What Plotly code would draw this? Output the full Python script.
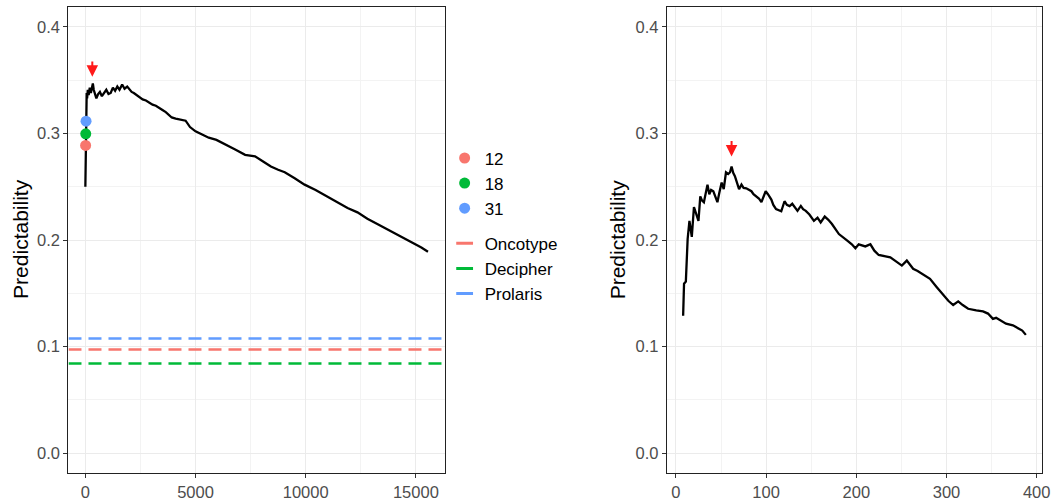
import plotly.graph_objects as go

# ---------------- data ----------------
left_x = [0, 10, 20, 30, 45, 60, 80, 110, 150, 200, 250, 300, 340, 380, 430, 500, 580, 660, 750, 850,
          950, 1050, 1150, 1250, 1350, 1450, 1550, 1670, 1780, 1900, 2000, 2100, 2200, 2320, 2430, 2600,
          2750, 2880, 3050, 3200, 3330, 3500, 3650, 3780, 3920, 4100, 4370, 4550, 4750, 5000, 5300, 5600,
          5950, 6350, 6800, 7250, 7700, 8050, 8420, 8750, 9050, 9500, 9950, 10450, 10950, 11450, 11900,
          12350, 12800, 13250, 13700, 14150, 14550, 14950, 15250, 15550]
left_y = [0.250, 0.275, 0.300, 0.318, 0.330, 0.338, 0.333, 0.341, 0.336, 0.343, 0.338, 0.344, 0.347, 0.341,
          0.337, 0.333, 0.337, 0.339, 0.335, 0.338, 0.341, 0.337, 0.338, 0.343, 0.340, 0.344, 0.341, 0.346,
          0.342, 0.344, 0.341, 0.339, 0.338, 0.336, 0.334, 0.332, 0.331, 0.329, 0.327, 0.326, 0.324, 0.322,
          0.320, 0.318, 0.315, 0.314, 0.313, 0.312, 0.306, 0.302, 0.299, 0.296, 0.294, 0.290, 0.285, 0.280,
          0.2785, 0.274, 0.269, 0.266, 0.2636, 0.258, 0.252, 0.247, 0.241, 0.2346, 0.230, 0.226, 0.220,
          0.215, 0.210, 0.2056, 0.201, 0.196, 0.193, 0.189]

right_x = [8, 9, 11, 13, 15, 17.6, 20, 22, 25, 27, 29, 31, 33, 35, 37, 39, 41.5, 44, 46, 48, 50.7, 53,
           55.5, 58, 60, 61.7, 63.5, 65.4, 68, 70, 72.7, 75, 78, 81, 83.7, 86, 89, 92, 94.8, 97, 99.5,
           102, 105.8, 108, 111, 116.8, 120.4, 123, 126, 129, 131.5, 134.8, 138.5, 141, 144, 148, 153,
           157, 160.5, 165, 169, 173, 180.7, 185, 190, 195, 199, 202.7, 206, 210, 215.6, 220, 224.8,
           231, 237.7, 244, 250.5, 256, 263, 268, 274, 281.7, 289, 296.4, 302, 307.4, 313, 318, 324, 333,
           340.5, 346, 351.5, 355, 361, 366, 373.6, 379, 384, 388]
right_y = [0.129, 0.159, 0.161, 0.201, 0.218, 0.203, 0.231, 0.225, 0.218, 0.241, 0.237, 0.2355, 0.244,
           0.252, 0.243, 0.247, 0.2458, 0.240, 0.2355, 0.244, 0.254, 0.2477, 0.2636, 0.262, 0.2636, 0.269,
           0.263, 0.260, 0.254, 0.2477, 0.252, 0.249, 0.2486, 0.247, 0.2458, 0.243, 0.241, 0.239, 0.2355,
           0.241, 0.2458, 0.243, 0.238, 0.233, 0.229, 0.227, 0.2364, 0.233, 0.2318, 0.234, 0.231, 0.2274,
           0.232, 0.229, 0.2274, 0.224, 0.218, 0.221, 0.2165, 0.222, 0.219, 0.215, 0.2056, 0.203, 0.1994,
           0.196, 0.1922, 0.196, 0.195, 0.194, 0.196, 0.190, 0.186, 0.185, 0.1838, 0.180, 0.176, 0.1807,
           0.173, 0.171, 0.168, 0.1636, 0.156, 0.148, 0.143, 0.139, 0.1424, 0.139, 0.1355, 0.134, 0.133,
           0.131, 0.126, 0.127, 0.124, 0.1215, 0.120, 0.1175, 0.115, 0.111]

point_names = ["12", "18", "31"]
point_x = [12, 18, 31]
point_y = [0.2888, 0.2997, 0.3115]
point_colors = ["#F8766D", "#00BA38", "#619CFF"]

ref_names = ["Oncotype", "Decipher", "Prolaris"]
ref_values = [0.0972, 0.0841, 0.1075]
ref_colors = ["#F8766D", "#00BA38", "#619CFF"]

left_arrow = dict(x=315, y_tail=0.369, y_head=0.3533)
right_arrow = dict(x=61.7, y_tail=0.2944, y_head=0.2785)

left_xrange = [-766, 16306]
right_xrange = [-9.95, 406.0]
yrange = [-0.0187, 0.4187]

left_xticks = [0, 5000, 10000, 15000]
right_xticks = [0, 100, 200, 300, 400]
yticks = [0, 0.1, 0.2, 0.3, 0.4]

# ---------------- layout helpers ----------------
W, H = 1064, 501


def px(xabs):
    return xabs / W


def py(yabs):
    return 1 - yabs / H


FONT = "Liberation Sans, Arial, Helvetica, sans-serif"

fig = go.Figure()

fig.add_trace(go.Scatter(x=left_x, y=left_y, mode="lines", line=dict(color="black", width=2.3),
                         showlegend=False, xaxis="x", yaxis="y"))

for n, v, c in zip(ref_names, ref_values, ref_colors):
    fig.add_trace(go.Scatter(x=left_xrange, y=[v, v], mode="lines", showlegend=False,
                             line=dict(color=c, width=2.5, dash="13px,7px"),
                             xaxis="x", yaxis="y"))

for n, xv, yv, c in zip(point_names, point_x, point_y, point_colors):
    fig.add_trace(go.Scatter(x=[xv], y=[yv], mode="markers", name=n,
                             marker=dict(color=c, size=11), legendgroup="pts",
                             xaxis="x", yaxis="y"))

# legend keys for the reference lines (short segments like the ggplot keys)
for n, c in zip(ref_names, ref_colors):
    fig.add_trace(go.Scatter(x=[None], y=[None], mode="markers", name=n, legendgroup="refs",
                             marker=dict(symbol="line-ew-open", size=12, color=c,
                                         line=dict(color=c, width=3)),
                             xaxis="x", yaxis="y"))

fig.add_trace(go.Scatter(x=right_x, y=right_y, mode="lines", line=dict(color="black", width=2.3),
                         showlegend=False, xaxis="x2", yaxis="y2"))

tickfont = dict(family=FONT, size=16.5, color="#4D4D4D")
axis_common = dict(showline=True, linecolor="#222222", linewidth=1.3, mirror=True,
                   ticks="outside", ticklen=4, tickcolor="#333333", tickwidth=1,
                   showgrid=True, gridcolor="#EBEBEB", gridwidth=1,
                   zeroline=False, tickfont=tickfont)


def minor(vals):
    return dict(tickvals=vals, showgrid=True, gridcolor="#F3F3F3", gridwidth=0.7, ticks="")


ylab = ["%.1f" % v for v in yticks]

fig.update_layout(
    width=W, height=H, autosize=False,
    margin=dict(l=0, r=0, t=0, b=0),
    paper_bgcolor="white", plot_bgcolor="white",
    font=dict(family=FONT, color="black"),
    xaxis=dict(domain=[px(69), px(448)], range=left_xrange, tickvals=left_xticks,
               ticktext=[str(v) for v in left_xticks], minor=minor([2500, 7500, 12500]), **axis_common),
    yaxis=dict(domain=[py(475), py(7)], range=yrange, tickvals=yticks, ticktext=ylab,
               minor=minor([0.05, 0.15, 0.25, 0.35]), **axis_common),
    xaxis2=dict(domain=[px(672), px(1050)], range=right_xrange, anchor="y2", tickvals=right_xticks,
                ticktext=[str(v) for v in right_xticks], minor=minor([50, 150, 250, 350]), **axis_common),
    yaxis2=dict(domain=[py(475), py(7)], range=yrange, anchor="x2", tickvals=yticks, ticktext=ylab,
                minor=minor([0.05, 0.15, 0.25, 0.35]), **axis_common),
    legend=dict(x=px(448), y=py(141), xanchor="left", yanchor="top", tracegroupgap=10,
                font=dict(family=FONT, size=17, color="black"),
                bgcolor="rgba(0,0,0,0)", itemwidth=30),
)

for xr, yr, a in [("x", "y", left_arrow), ("x2", "y2", right_arrow)]:
    fig.add_annotation(x=a["x"], y=a["y_head"], ax=a["x"], ay=a["y_tail"], xref=xr, yref=yr,
                       axref=xr, ayref=yr, showarrow=True, arrowhead=2, arrowsize=1.15,
                       arrowwidth=2, arrowcolor="#FF1A1A", text="")

for xa in [20, 622]:
    fig.add_annotation(x=px(xa), y=py(240), xref="paper", yref="paper", text="Predictability",
                       showarrow=False, textangle=-90, xanchor="center", yanchor="middle",
                       font=dict(family=FONT, size=21, color="black"))

fig.write_html(
    "out.html",
    config={"responsive": False, "displayModeBar": False},
    post_script="document.body.style.margin='0';document.body.style.overflow='hidden';",
)
